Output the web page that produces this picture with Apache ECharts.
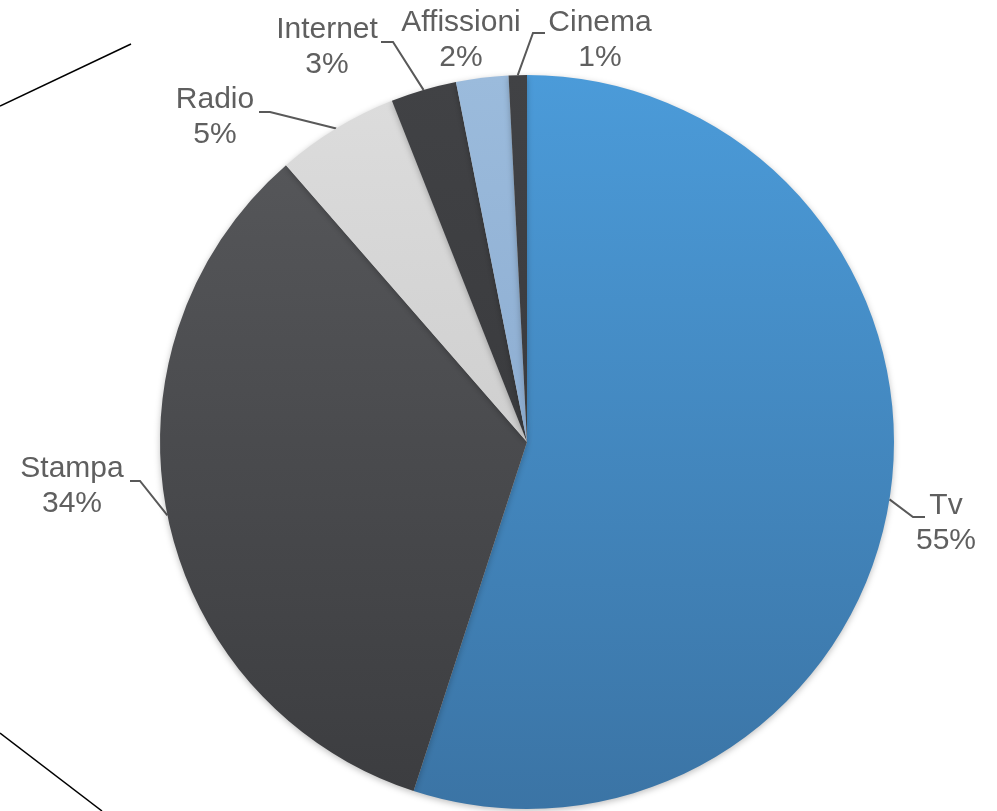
<!DOCTYPE html>
<html>
<head>
<meta charset="utf-8">
<script src="https://cdn.jsdelivr.net/npm/echarts@6/dist/echarts.min.js"></script>
<style>html,body{margin:0;padding:0;background:#fff;}#c{width:997px;height:811px;}</style>
</head>
<body>
<div id="c"></div>
<script>
const categories = ['Tv', 'Stampa', 'Radio', 'Internet', 'Affissioni', 'Cinema'];
const values = [55.0, 33.6, 5.4, 2.9, 2.3, 0.8];
const colors = [
  ['#4b9bd9', '#3b74a5'],
  ['#555659', '#3c3d40'],
  ['#dcdcdc', '#cfcfcf'],
  ['#414245', '#3a3b3e'],
  ['#9bbbdc', '#8eaed2'],
  ['#414245', '#3a3b3e']
];
// label layout (text block centre, leader elbow, leader end) — layout only
const labelLayoutSpec = [
  {c: [946, 523], elbow: [913, 517], end: [925, 517]},
  {c: [72, 486], elbow: [140, 481], end: [130, 481]},
  {c: [215, 117], elbow: [270, 112], end: [259, 112]},
  {c: [327, 47], elbow: [393, 42], end: [381, 42]},
  {c: [461, 40], elbow: null, end: null},
  {c: [600, 40], elbow: [533, 33], end: [545, 33]}
];
const chart = echarts.init(document.getElementById('c'), null, {renderer: 'canvas'});
const data = categories.map((name, i) => ({
  name: name,
  value: values[i],
  itemStyle: {
    color: new echarts.graphic.LinearGradient(0, 0, 0, 1, [
      {offset: 0, color: colors[i][0]},
      {offset: 1, color: colors[i][1]}
    ])
  }
}));
chart.setOption({
  animation: false,
  backgroundColor: '#ffffff',
  graphic: [
    {type: 'line', shape: {x1: 0, y1: 106, x2: 131, y2: 44}, style: {stroke: '#000', lineWidth: 1.5}},
    {type: 'line', shape: {x1: 0, y1: 733, x2: 102, y2: 811}, style: {stroke: '#000', lineWidth: 1.5}}
  ],
  series: [{
    type: 'pie',
    center: [527, 442],
    radius: 367,
    startAngle: 90,
    clockwise: true,
    data: data,
    itemStyle: {shadowBlur: 6, shadowColor: 'rgba(0,0,0,0.25)', shadowOffsetY: 2},
    label: {
      show: true,
      position: 'outside',
      formatter: p => '{t|' + p.name + '}\n{t|' + Math.round(p.percent) + '%}',
      rich: {t: {fontFamily: 'Liberation Sans, Arial, sans-serif', fontSize: 30, color: '#5f5f5f', lineHeight: 35, align: 'center'}}
    },
    labelLine: {
      show: true,
      length: 12,
      length2: 14,
      lineStyle: {color: '#595959', width: 2}
    },
    labelLayout: function (params) {
      const s = labelLayoutSpec[params.dataIndex];
      const out = {x: s.c[0], y: s.c[1], align: 'center', verticalAlign: 'middle'};
      if (s.elbow && params.labelLinePoints) {
        out.labelLinePoints = [params.labelLinePoints[0], s.elbow, s.end];
      } else {
        out.labelLinePoints = [[s.c[0], s.c[1]], [s.c[0], s.c[1]], [s.c[0], s.c[1]]];
      }
      return out;
    }
  }]
});
</script>
</body>
</html>
